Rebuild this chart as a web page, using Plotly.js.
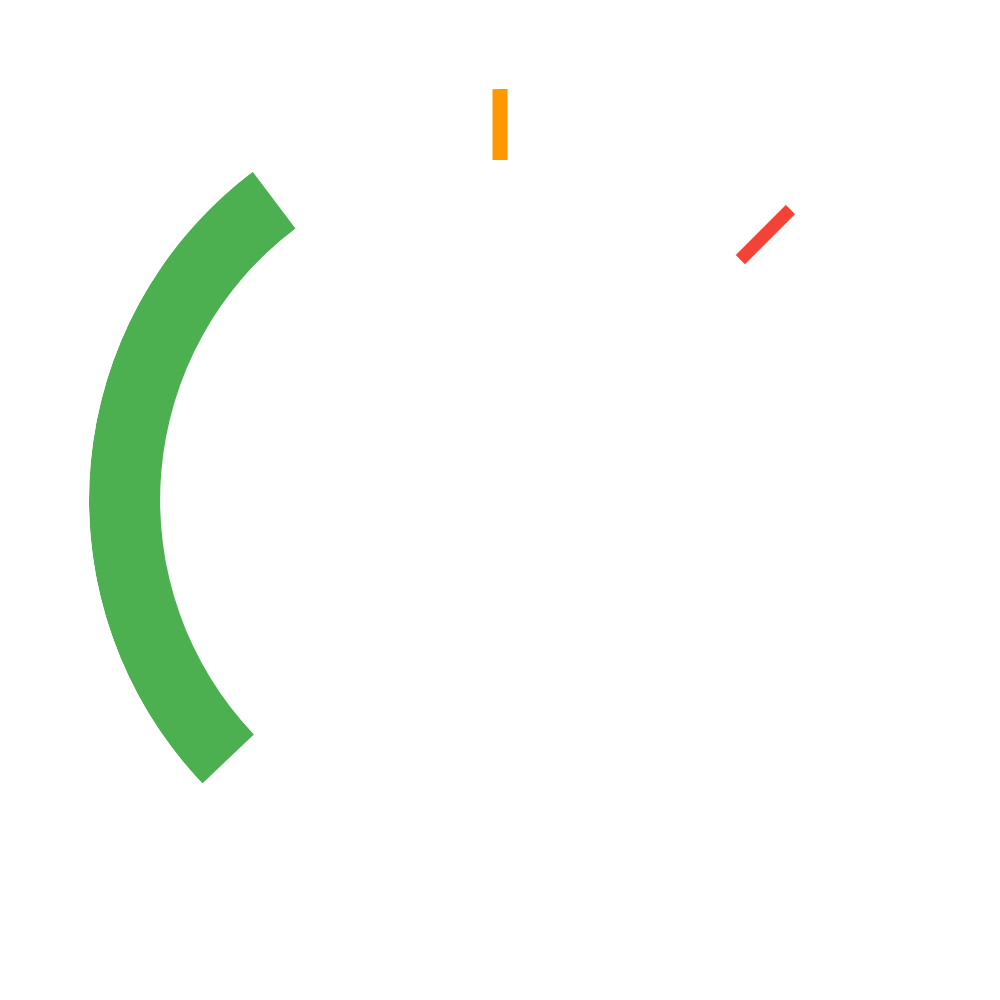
<!DOCTYPE html>
<html>
<head>
<meta charset="utf-8">
<script src="https://cdn.plot.ly/plotly-3.0.1.min.js"></script>
<style>
  html, body { margin:0; padding:0; background:#fff; }
  #chart { width:1000px; height:1000px; }
</style>
</head>
<body>
<div id="chart"></div>
<script>
// arc band (radial units 0-100, angles in degrees, counterclockwise from east)
const bandBase = 82.7;
const bandTop = 100;
const arcTheta = [175.3];
const arcWidth = [96.6];
const arcColor = '#4CAF50';

// marker ticks
const tickNames = ['orange', 'red'];
const tickTheta = [90, 45];
const tickColors = ['#FF9800', '#F44336'];
const tickWidths = [15, 13];

const traces = [{
  type: 'barpolar',
  theta: arcTheta,
  width: arcWidth,
  base: [bandBase],
  r: [bandTop - bandBase],
  marker: { color: arcColor, line: { width: 0 } },
  hoverinfo: 'skip'
}];

tickTheta.forEach((t, i) => {
  traces.push({
    type: 'scatterpolar',
    mode: 'lines',
    name: tickNames[i],
    r: [bandBase, bandTop],
    theta: [t, t],
    line: { color: tickColors[i], width: tickWidths[i] },
    hoverinfo: 'skip'
  });
});

Plotly.newPlot('chart', traces, {
  width: 1000, height: 1000,
  margin: { l: 89, r: 89, t: 89, b: 89 },
  paper_bgcolor: '#fff',
  showlegend: false,
  polar: {
    bgcolor: '#fff',
    radialaxis: { range: [0, bandTop], visible: false },
    angularaxis: { visible: false, rotation: 0, direction: 'counterclockwise' }
  }
}, { displayModeBar: false, staticPlot: true });
</script>
</body>
</html>
